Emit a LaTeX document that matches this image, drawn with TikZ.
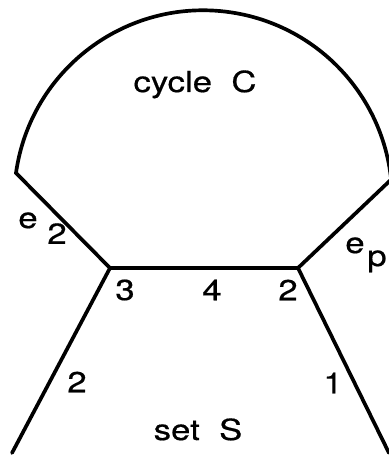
\documentclass[tikz,border=0pt]{standalone}
\usepackage{fontspec}
\setmainfont{TeX Gyre Heros}[FakeStretch=1.2, FakeBold=0.6]
\usepackage{tikz}

\tikzset{
  edge/.style={line width=2.1pt, line cap=round},
  lbl/.style={inner sep=0pt, font=\fontsize{16.5}{19}\selectfont}
}

\begin{document}
\begin{tikzpicture}[x=0.02cm, y=0.02cm]
\useasboundingbox (0,0) rectangle (389,457);
% vertices
\coordinate (u) at (110,189);
\coordinate (v) at (298,189);
\coordinate (a) at (16,284);
\coordinate (sl) at (12,4);
\coordinate (sr) at (389,4);
% cycle C
\draw[edge, line cap=butt] (u) -- (a) arc[start angle=172, end angle=6, radius=189] coordinate (b) -- (v) -- cycle;
% edges into S
\draw[edge] (u) -- (sl);
\draw[edge] (v) -- (sr);
% labels
\node[lbl, anchor=base] (cyc) at (195,365) {cycle\ \ C};
\node[lbl, anchor=base] (set) at (198,17) {set\ \ S};
\node[lbl, anchor=base west] (e2) at (18,229) {e \raisebox{-9pt}{2}};
\node[lbl, anchor=base east] (ep) at (387,204) {e\hspace{1.5pt}\raisebox{-7.4pt}{p}};
\node[lbl] (w3) at (125,167) {3};
\node[lbl] (w4) at (212,167) {4};
\node[lbl] (w2r) at (288,167) {2};
\node[lbl] (w2l) at (77,75) {2};
\node[lbl] (w1) at (333,74) {1};
\end{tikzpicture}
\end{document}
